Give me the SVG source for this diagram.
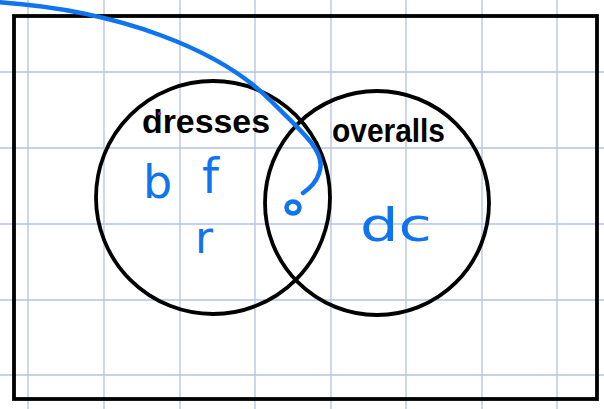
<svg xmlns="http://www.w3.org/2000/svg" width="604" height="409" viewBox="0 0 604 409">
<style>
.grid{stroke:#b4c3de;stroke-width:1.3;fill:none}
.ink{stroke:#000;stroke-width:3.8;fill:none}
.blue{stroke:#0f74ee;stroke-width:4.5;fill:none;stroke-linecap:round}
.lbl{font-family:"Liberation Sans","DejaVu Sans",sans-serif;fill:#000;font-weight:bold}
.item{font-family:"DejaVu Sans","Liberation Sans",sans-serif;fill:#0f74ee}
</style>
<rect width="604" height="409" fill="#fff"/>
<g id="grid" class="grid">
<path d="M28 0V409M104 0V409M180 0V409M255 0V409M331 0V409M406 0V409M482 0V409M557 0V409"/>
<path d="M0 72H604M0 148H604M0 224H604M0 300H604M0 375H604"/>
</g>
<g id="universe"><rect x="14" y="16" width="583" height="383" class="ink" stroke-width="4.2"/></g>
<g id="dresses">
<ellipse cx="213" cy="197.5" rx="117" ry="116.5" class="ink"/>
<text class="lbl" x="142" y="133" font-size="33" textLength="128" lengthAdjust="spacingAndGlyphs">dresses</text>
<circle cx="159.5" cy="113.5" r="1.6" fill="#a020c0"/>
</g>
<g id="overalls">
<ellipse cx="377" cy="203" rx="112" ry="112" class="ink"/>
<text class="lbl" x="332" y="142" font-size="33" textLength="113" lengthAdjust="spacingAndGlyphs">overalls</text>
</g>
<g id="items">
<text class="item" x="143" y="198" font-size="46">b</text>
<text class="item" x="202" y="193" font-size="48">f</text>
<text class="item" x="195" y="253" font-size="44">r</text>
<text class="item" x="360" y="241" font-size="46" textLength="72" lengthAdjust="spacingAndGlyphs">dc</text>
</g>
<g id="connectors">
<path class="blue" d="M-5 2 C 120 10, 220 50, 270 100 C 300 130, 325 150, 320 170 C 317 182, 310 188, 303 193"/>
<ellipse cx="293" cy="207.5" rx="6.5" ry="6" class="blue" stroke-width="5.5"/>
</g>
</svg>
